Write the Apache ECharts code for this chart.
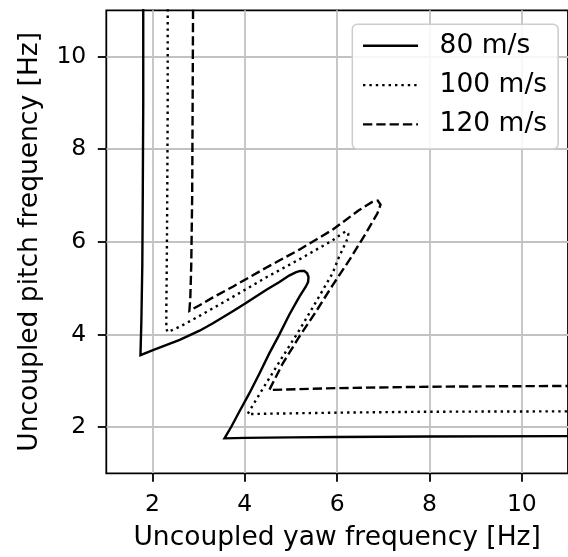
<!DOCTYPE html>
<html>
<head>
<meta charset="utf-8">
<script src="https://cdn.jsdelivr.net/npm/echarts@6/dist/echarts.min.js"></script>
<style>
  html, body { margin: 0; padding: 0; background: #fff; }
  #chart { width: 568px; height: 557px; }
</style>
</head>
<body>
<div id="chart"></div>
<script>
// ---- data ----
const xTicks = [2, 4, 6, 8, 10];
const yTicks = [2, 4, 6, 8, 10];
const seriesNames = ['80 m/s', '100 m/s', '120 m/s'];

const speed80 = [
  [1.80, 11.3], [1.80, 9.0], [1.79, 7.0], [1.78, 5.5], [1.76, 4.3], [1.74, 3.55],
  [2.01, 3.66], [2.59, 3.88], [3.02, 4.08], [3.31, 4.24], [3.74, 4.50], [4.00, 4.66],
  [4.46, 4.96], [4.75, 5.13], [4.96, 5.27], [5.10, 5.34], [5.20, 5.37], [5.29, 5.37],
  [5.35, 5.32], [5.38, 5.24], [5.37, 5.13], [5.32, 5.03], [5.18, 4.81], [4.96, 4.42],
  [4.75, 4.00], [4.53, 3.59], [4.32, 3.16], [4.10, 2.73], [3.88, 2.33], [3.71, 2.01],
  [3.56, 1.755], [4.00, 1.765], [5.00, 1.775], [6.00, 1.785], [8.00, 1.795], [11.5, 1.805]
];

const speed100 = [
  [2.33, 11.3], [2.33, 9.0], [2.32, 7.0], [2.31, 5.5], [2.30, 4.5], [2.30, 4.12], [2.33, 4.05],
  [2.60, 4.17], [3.02, 4.40], [3.74, 4.81], [4.46, 5.23], [5.18, 5.62], [5.90, 6.03],
  [6.08, 6.16], [6.19, 6.23], [6.24, 6.18], [6.24, 6.10], [6.04, 5.67], [5.90, 5.32],
  [5.54, 4.70], [5.18, 4.09], [4.82, 3.52], [4.46, 2.94], [4.24, 2.58], [4.06, 2.28],
  [5.00, 2.295], [6.00, 2.31], [8.00, 2.33], [11.5, 2.34]
];

const speed120 = [
  [2.88, 11.3], [2.87, 9.0], [2.86, 7.0], [2.84, 5.5], [2.82, 4.8], [2.80, 4.51],
  [3.02, 4.63], [3.31, 4.80], [3.74, 5.03], [4.46, 5.44], [5.18, 5.83], [5.90, 6.26],
  [6.47, 6.68], [6.76, 6.86], [6.88, 6.89], [6.94, 6.80], [6.87, 6.61], [6.62, 6.18],
  [6.26, 5.60], [5.90, 5.06], [5.54, 4.49], [5.18, 3.95], [4.82, 3.37], [4.53, 2.80],
  [6.00, 2.84], [8.00, 2.87], [11.5, 2.89]
];

const chart = echarts.init(document.getElementById('chart'), null, { renderer: 'canvas' });
const FONT = 'DejaVu Sans';
const lineW = 2.4;

function mkSeries(name, data, dash) {
  return {
    name: name,
    type: 'line',
    data: data,
    symbol: 'none',
    showSymbol: false,
    clip: true,
    animation: false,
    lineStyle: { color: '#000', width: lineW, type: dash, cap: 'butt', join: 'miter' },
    itemStyle: { color: '#000' }
  };
}

const option = {
  animation: false,
  backgroundColor: '#fff',
  textStyle: { fontFamily: FONT },
  grid: {
    left: 106.3, top: 10.3, width: 463.5, height: 463,
    show: true, borderColor: '#000', borderWidth: 1.8, backgroundColor: 'transparent',
    containLabel: false
  },
  legend: {
    orient: 'vertical',
    left: 352.3, top: 24.3,
    padding: [8, 11, 11, 9.5],
    itemWidth: 55, itemHeight: 14, itemGap: 12.3,
    backgroundColor: 'rgba(255,255,255,0.85)',
    borderColor: '#cccccc', borderWidth: 1.5, borderRadius: 5,
    data: seriesNames,
    itemStyle: { opacity: 0, borderWidth: 0 },
    lineStyle: { width: lineW, color: '#000' },
    textStyle: { fontFamily: FONT, fontSize: 26.5, color: '#000', lineHeight: 26.5, padding: [0, 0, 0, 16.6] },
    selectedMode: false
  },
  xAxis: {
    type: 'value', min: 1, max: 11,
    name: 'Uncoupled yaw frequency [Hz]', nameLocation: 'middle', nameGap: 51.5,
    nameTextStyle: { fontFamily: FONT, fontSize: 26.5, color: '#000', lineHeight: 26.5 },
    axisLine: { show: false },
    axisTick: { show: true, inside: false, length: 8.5, lineStyle: { color: '#000', width: 1.8 }, customValues: xTicks },
    axisLabel: { show: true, margin: 20, fontFamily: FONT, fontSize: 23.5, color: '#000', lineHeight: 23.5, customValues: xTicks, formatter: v => String(v) },
    splitLine: { show: true, lineStyle: { color: '#c2c2c2', width: 1.8 } }
  },
  yAxis: {
    type: 'value', min: 1, max: 11,
    name: 'Uncoupled pitch frequency [Hz]', nameLocation: 'middle', nameGap: 63, nameRotate: 90,
    nameTextStyle: { fontFamily: FONT, fontSize: 26.5, color: '#000', lineHeight: 26.5 },
    axisLine: { show: false },
    axisTick: { show: true, inside: false, length: 8.5, lineStyle: { color: '#000', width: 1.8 }, customValues: yTicks },
    axisLabel: { show: true, margin: 20, fontFamily: FONT, fontSize: 23.5, color: '#000', customValues: yTicks, formatter: v => String(v) },
    splitLine: { show: true, lineStyle: { color: '#c2c2c2', width: 1.8 } }
  },
  series: [
    mkSeries(seriesNames[0], speed80, 'solid'),
    mkSeries(seriesNames[1], speed100, [2.4, 4.0]),
    mkSeries(seriesNames[2], speed120, [9.3, 4.0])
  ]
};
chart.setOption(option);
</script>
</body>
</html>
